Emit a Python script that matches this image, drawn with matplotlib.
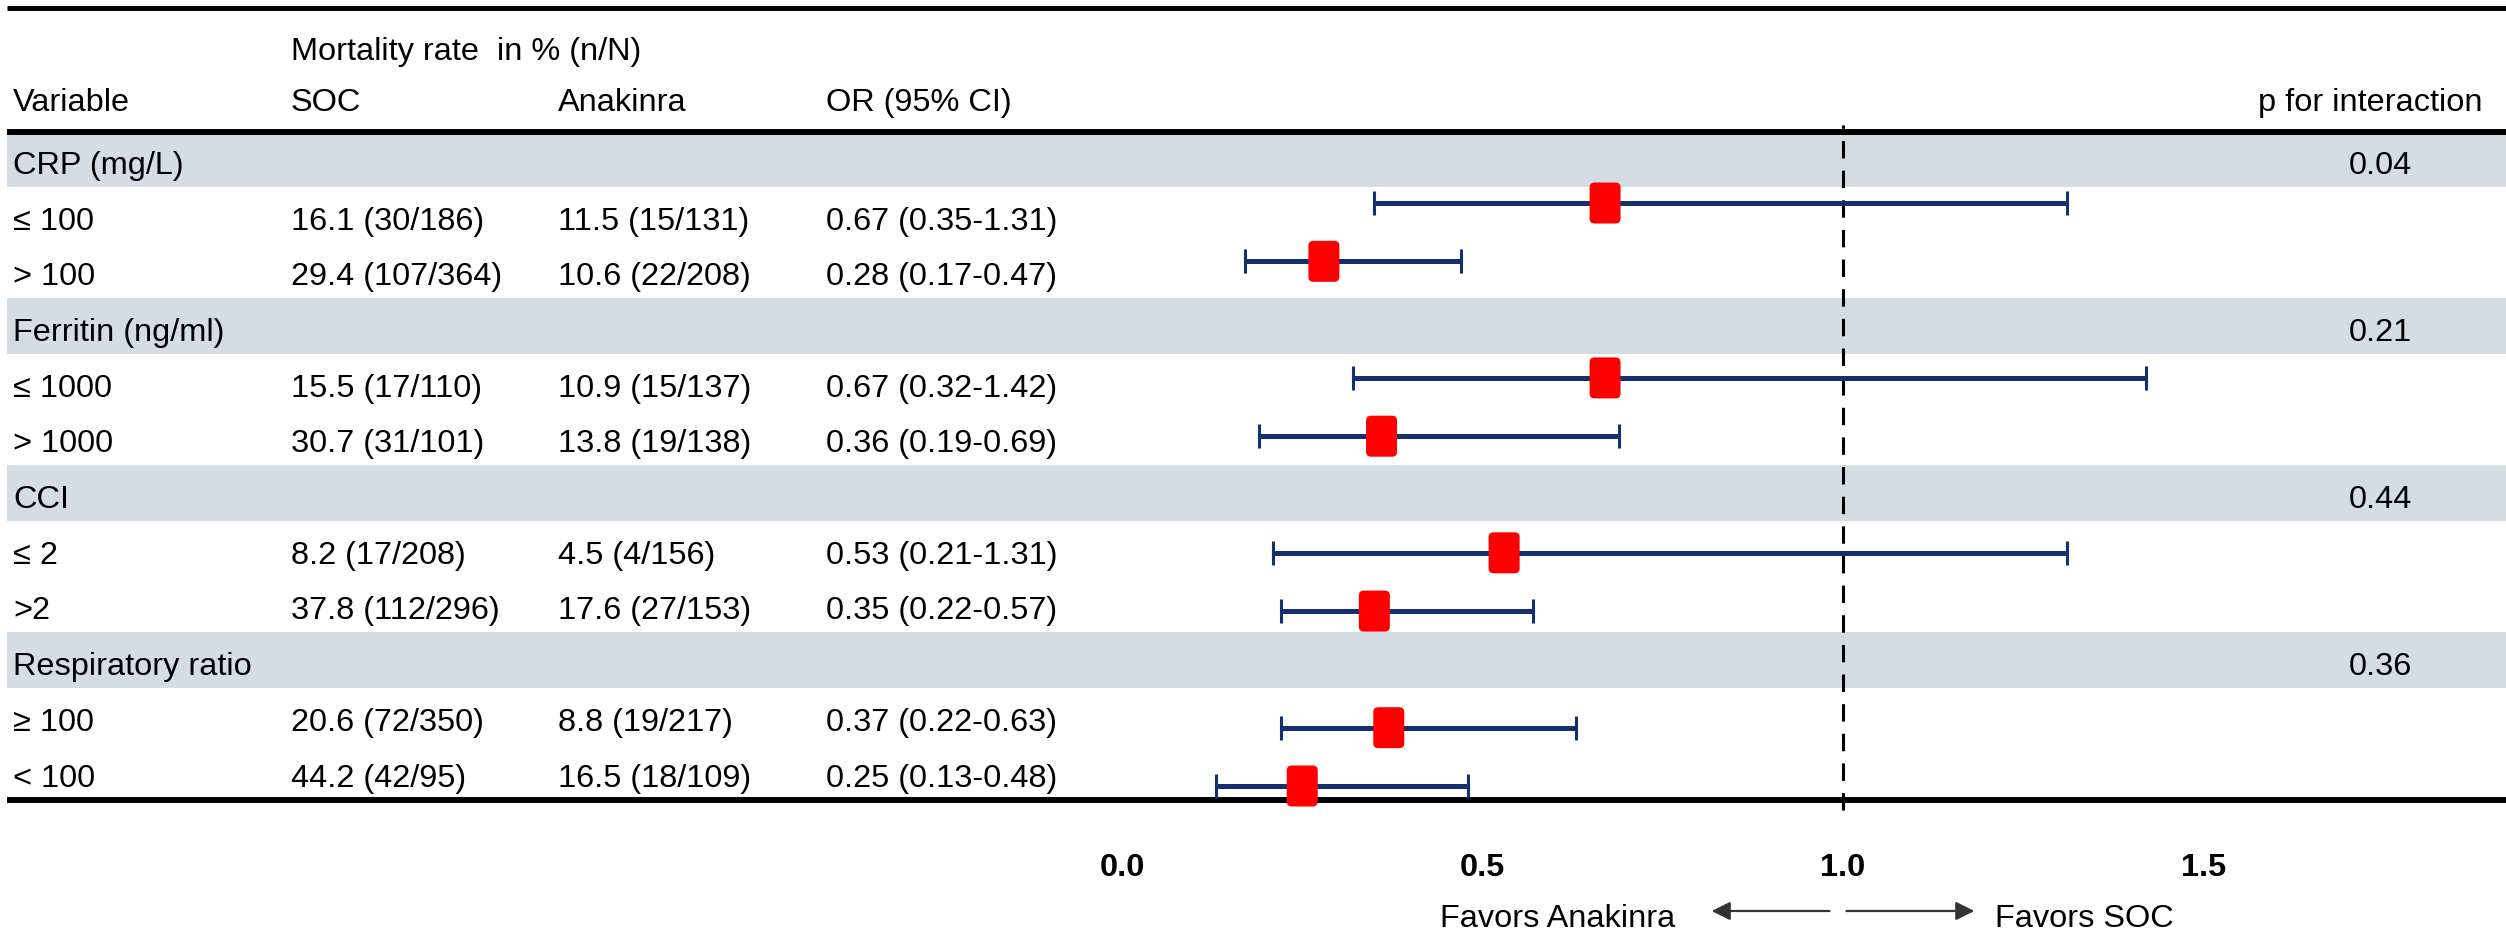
# Forest plot de mortalidad por subgrupos (SOC vs Anakinra)
import matplotlib.pyplot as plt
from matplotlib.patches import FancyBboxPatch, Rectangle
from matplotlib.transforms import blended_transform_factory

plt.rcParams['font.family'] = ['Liberation Sans', 'DejaVu Sans']

# Datos de la tabla
grupos = ['CRP (mg/L)', 'Ferritin (ng/ml)', 'CCI', 'Respiratory ratio']
p_interaccion = ['0.04', '0.21', '0.44', '0.36']
subgrupos = ['≤ 100', '> 100', '≤ 1000', '> 1000', '≤ 2', '>2', '≥ 100', '< 100']
soc = ['16.1 (30/186)', '29.4 (107/364)', '15.5 (17/110)', '30.7 (31/101)',
       '8.2 (17/208)', '37.8 (112/296)', '20.6 (72/350)', '44.2 (42/95)']
anakinra = ['11.5 (15/131)', '10.6 (22/208)', '10.9 (15/137)', '13.8 (19/138)',
            '4.5 (4/156)', '17.6 (27/153)', '8.8 (19/217)', '16.5 (18/109)']
odds = [0.67, 0.28, 0.67, 0.36, 0.53, 0.35, 0.37, 0.25]
ic_bajo = [0.35, 0.17, 0.32, 0.19, 0.21, 0.22, 0.22, 0.13]
ic_alto = [1.31, 0.47, 1.42, 0.69, 1.31, 0.57, 0.63, 0.48]
ticks = [0.0, 0.5, 1.0, 1.5]

# Parametros de diseño (en pixeles de la figura)
ANCHO, ALTO = 2506, 934
FS = 23.4
fila_top, fila_h = 131, 55.7
col_x = [13, 291, 558, 826]
p_x = 2412
banda = '#D6DCE4'
azul = '#14306E'

fig = plt.figure(figsize=(ANCHO / 100, ALTO / 100), dpi=100)

# Eje de la tabla en coordenadas de pixel
ax_t = fig.add_axes([0, 0, 1, 1])
ax_t.set_xlim(0, ANCHO)
ax_t.set_ylim(ALTO, 0)
ax_t.axis('off')

# Bandas grises de cada grupo
for g in range(len(grupos)):
    y0 = fila_top + fila_h * (3 * g)
    ax_t.add_patch(Rectangle((7, y0), ANCHO - 7, fila_h, color=banda, lw=0, zorder=0))

# Lineas horizontales
ax_t.plot([7, ANCHO], [8, 8], color='black', lw=3.6, solid_capstyle='butt')
ax_t.plot([7, ANCHO], [132, 132], color='black', lw=4.3, solid_capstyle='butt', zorder=3)
ax_t.plot([7, ANCHO], [800, 800], color='black', lw=4.3, solid_capstyle='butt', zorder=3)

# Encabezados
ax_t.text(col_x[1], 60, 'Mortality rate  in % (n/N)', fontsize=FS, va='baseline')
for x, t in zip(col_x, ['Variable', 'SOC', 'Anakinra', 'OR (95% CI)']):
    ax_t.text(x, 111, t, fontsize=FS, va='baseline')
ax_t.text(2483, 111, 'p for interaction', fontsize=FS, va='baseline', ha='right')

# Filas de texto
filas_forest = []
for g, nombre in enumerate(grupos):
    base = fila_top + fila_h * (3 * g) + fila_h / 2 + 15
    ax_t.text(col_x[0], base, nombre, fontsize=FS, va='baseline')
    ax_t.text(p_x, base, p_interaccion[g], fontsize=FS, va='baseline', ha='right')
    for k in range(2):
        i = 2 * g + k
        fila = 3 * g + 1 + k
        filas_forest.append(fila)
        base = fila_top + fila_h * fila + fila_h / 2 + 15
        texto_or = f'{odds[i]:.2f} ({ic_bajo[i]:.2f}-{ic_alto[i]:.2f})'
        for x, t in zip(col_x, [subgrupos[i], soc[i], anakinra[i], texto_or]):
            ax_t.text(x, base, t, fontsize=FS, va='baseline')

# Eje del forest plot: x = OR, y = indice de fila
x0, escala = 1122, 721.0
f0, fh = 144.7, 58.3
ax_f = fig.add_axes([0, 1 - 810 / ALTO, 1, (810 - 131) / ALTO])
ax_f.set_xlim(-x0 / escala, (ANCHO - x0) / escala)
ax_f.set_ylim((810 - f0) / fh, (131 - f0) / fh)
ax_f.patch.set_alpha(0)
for s in ax_f.spines.values():
    s.set_visible(False)
ax_f.set_yticks([])
ax_f.set_xticks(ticks)
ax_f.set_xticklabels([f'{t:.1f}' for t in ticks], fontsize=FS, fontweight='bold')
ax_f.tick_params(axis='x', length=0, pad=31)

# Linea de referencia en OR = 1
ax_f.axvline(1.0, ymin=0, ymax=1.009, color='black', lw=2.2,
             linestyle=(0, (5.7, 4)), clip_on=False, zorder=2)

# Intervalos de confianza
err_izq = [o - lo for o, lo in zip(odds, ic_bajo)]
err_der = [hi - o for o, hi in zip(odds, ic_alto)]
ax_f.errorbar(odds, filas_forest, xerr=[err_izq, err_der], fmt='none',
              ecolor=azul, elinewidth=3.6, capsize=8.6, capthick=2.2, zorder=3)

# Marcadores rojos redondeados
ancho_m, alto_m = 31 / escala, 41 / fh
radio = 5 / escala
for o, y in zip(odds, filas_forest):
    ax_f.add_patch(FancyBboxPatch((o - ancho_m / 2, y - alto_m / 2), ancho_m, alto_m,
                                  boxstyle=f'round,pad=0,rounding_size={radio}',
                                  mutation_aspect=escala / fh,
                                  facecolor='#FF0000', edgecolor='none', zorder=4))

# Flechas y etiquetas "Favors"
mezcla = blended_transform_factory(ax_f.transData, ax_t.transData)
y_flecha = 911
ax_t.annotate('', xy=(0.814, y_flecha), xytext=(0.985, y_flecha),
              xycoords=mezcla, textcoords=mezcla,
              arrowprops=dict(arrowstyle='-|>', color='#333333', lw=1.6, mutation_scale=28))
ax_t.annotate('', xy=(1.186, y_flecha), xytext=(1.001, y_flecha),
              xycoords=mezcla, textcoords=mezcla,
              arrowprops=dict(arrowstyle='-|>', color='#333333', lw=1.6, mutation_scale=28))
ax_t.text(0.768, 927, 'Favors Anakinra', transform=mezcla, fontsize=FS,
          ha='right', va='baseline')
ax_t.text(1.211, 927, 'Favors SOC', transform=mezcla, fontsize=FS,
          ha='left', va='baseline')

fig.savefig('out.png', dpi=100)
